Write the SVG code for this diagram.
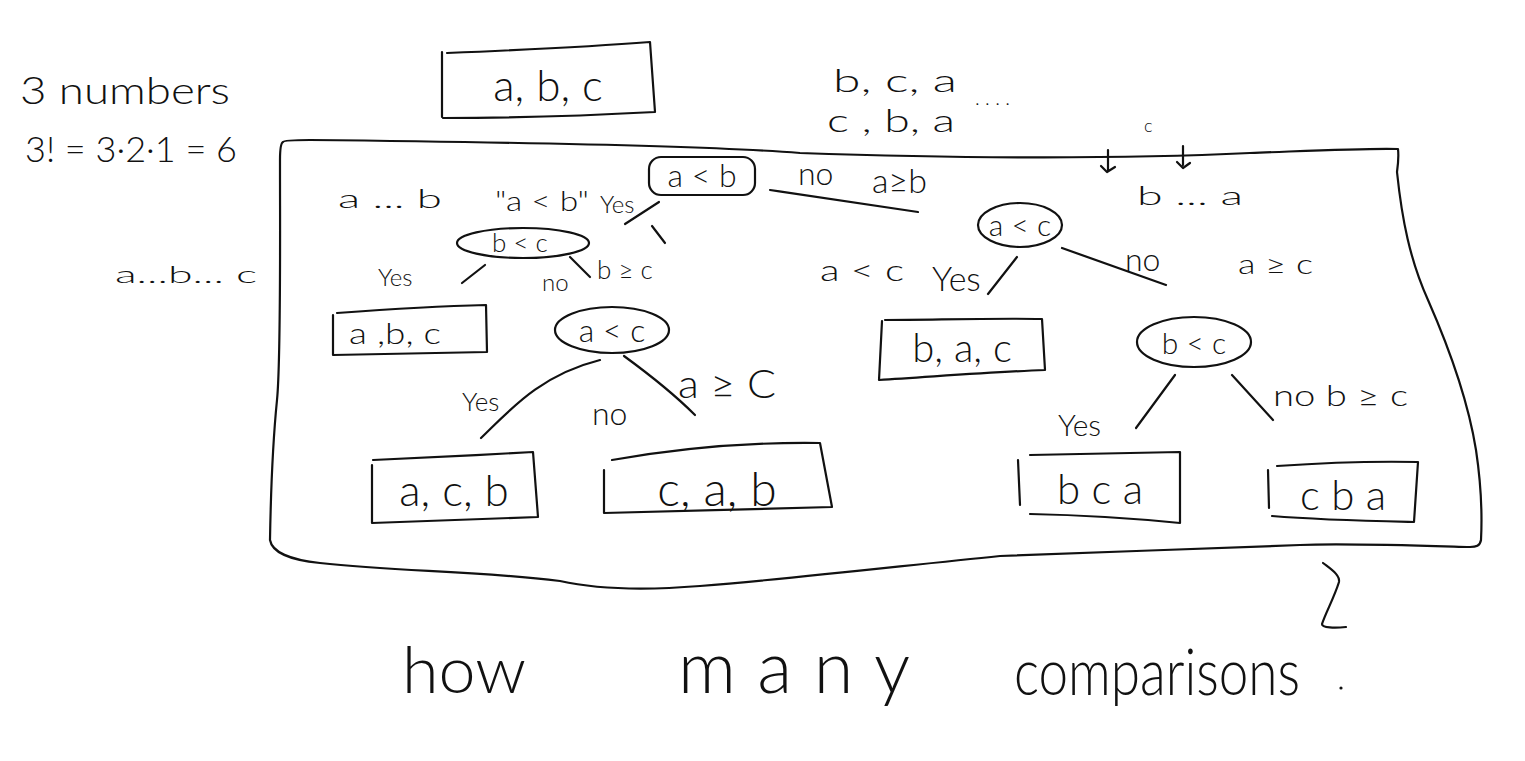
<svg xmlns="http://www.w3.org/2000/svg" width="1525" height="761" viewBox="0 0 1525 761">
<style>
.s{fill:none;stroke:#111;stroke-width:2.2;stroke-linecap:round;stroke-linejoin:round}
.t{font-family:"Lato","Open Sans","Liberation Sans",sans-serif;font-weight:300;fill:#111}
</style>
<rect width="1525" height="761" fill="#fff"/>
<!-- frame -->
<g id="frame">
<path class="s" d="M283,142 C284,140 300,140 310,140 C500,142 700,145 800,153 C950,158 1100,160 1250,153 C1330,150 1370,148 1398,149 C1399,158 1398,165 1397,172 C1402,220 1410,260 1428,300 C1450,350 1468,400 1476,450 C1482,490 1482,520 1481,540 C1480,546 1476,547 1470,547 C1400,545 1340,543 1300,545 C1200,549 1100,552 1000,556 C900,566 800,578 700,586 C650,590 600,590 560,581 C470,570 400,572 320,563 C290,560 272,552 270,540 C271,480 274,430 277,400 C281,360 280,250 280,160 C280,150 281,143 283,142 Z"/>
</g>
<!-- side notes -->
<g id="notes">
<text class="t" x="20" y="104" font-size="38" textLength="210" lengthAdjust="spacingAndGlyphs">3 numbers</text>
<text class="t" x="25" y="162" font-size="36" textLength="212" lengthAdjust="spacingAndGlyphs">3! = 3·2·1 = 6</text>
<text class="t" x="115" y="283" font-size="24" textLength="142" lengthAdjust="spacingAndGlyphs">a...b...  c</text>
<text class="t" x="833" y="92" font-size="32" textLength="124" lengthAdjust="spacingAndGlyphs">b, c, a</text>
<text class="t" x="827" y="132" font-size="32" textLength="128" lengthAdjust="spacingAndGlyphs">c , b, a</text>
<text class="t" x="975" y="105" font-size="20">.  . .      .</text>
<text class="t" x="1144" y="132" font-size="18">c</text>
<text class="t" x="1137" y="205" font-size="26" textLength="106" lengthAdjust="spacingAndGlyphs">b ... a</text>
<path class="s" d="M1108,150 L1108,170 M1101,166 L1107,172 L1115,167"/>
<path class="s" d="M1183,146 L1183,165 M1177,162 L1183,168 L1190,163"/>
</g>
<!-- root -->
<g id="root">
<path class="s" d="M442,52 L442,117 M447,53 C520,50 600,46 650,42 L655,112 C580,116 500,118 443,118"/>
<text class="t" x="548" y="101" font-size="44" text-anchor="middle">a, b, c</text>
</g>
<!-- comparison nodes -->
<g id="cmp-ab">
<rect class="s" x="649" y="157" width="106" height="38" rx="12"/>
<text class="t" x="702" y="187" font-size="32" text-anchor="middle">a &lt; b</text>
</g>
<g id="cmp-bc-left">
<ellipse class="s" cx="523" cy="243" rx="66" ry="15"/>
<text class="t" x="520" y="252" font-size="26" text-anchor="middle">b &lt; c</text>
</g>
<g id="cmp-ac-left">
<ellipse class="s" cx="612" cy="330" rx="57" ry="23"/>
<text class="t" x="612" y="342" font-size="32" text-anchor="middle">a &lt; c</text>
</g>
<g id="cmp-ac-right">
<ellipse class="s" cx="1020" cy="225" rx="42" ry="22"/>
<text class="t" x="1020" y="236" font-size="30" text-anchor="middle">a &lt; c</text>
</g>
<g id="cmp-bc-right">
<ellipse class="s" cx="1194" cy="342" rx="57" ry="25"/>
<text class="t" x="1194" y="354" font-size="30" text-anchor="middle">b &lt; c</text>
</g>
<!-- leaves -->
<g id="leaf-abc">
<path class="s" d="M333,315 L333,355 M337,313 C390,309 440,306 486,305 L487,352 L333,355"/>
<text class="t" x="349" y="344" font-size="30" textLength="92" lengthAdjust="spacingAndGlyphs">a ,b, c</text>
</g>
<g id="leaf-bac">
<path class="s" d="M882,321 L879,380 C930,377 990,372 1045,370 L1042,319 C990,318 930,320 885,320"/>
<text class="t" x="962" y="362" font-size="40" text-anchor="middle">b, a, c</text>
</g>
<g id="leaf-acb">
<path class="s" d="M372,465 L372,523 L538,517 L533,452 C480,455 420,458 373,460"/>
<text class="t" x="454" y="506" font-size="44" text-anchor="middle">a, c, b</text>
</g>
<g id="leaf-cab">
<path class="s" d="M604,470 L604,513 L832,507 L820,443 C750,442 680,448 612,460"/>
<text class="t" x="717" y="506" font-size="48" text-anchor="middle">c, a, b</text>
</g>
<g id="leaf-bca">
<path class="s" d="M1018,460 L1020,505 M1030,455 L1180,452 L1180,523 C1130,518 1080,515 1030,514"/>
<text class="t" x="1100" y="504" font-size="42" text-anchor="middle">b  c  a</text>
</g>
<g id="leaf-cba">
<path class="s" d="M1268,470 L1269,508 M1277,466 C1320,463 1370,461 1418,462 L1414,522 C1370,521 1320,520 1272,516"/>
<text class="t" x="1343" y="510" font-size="42" text-anchor="middle">c b a</text>
</g>
<!-- connectors -->
<g id="connectors">
<path class="s" d="M625,224 L659,202"/>
<path class="s" d="M652,226 L665,243"/>
<path class="s" d="M770,190 C820,197 870,205 918,212"/>
<path class="s" d="M462,283 L485,265"/>
<path class="s" d="M570,257 L590,277"/>
<path class="s" d="M600,360 C540,375 510,410 481,438"/>
<path class="s" d="M624,356 C650,375 675,395 695,415"/>
<path class="s" d="M1017,257 L988,294"/>
<path class="s" d="M1062,248 L1166,285"/>
<path class="s" d="M1175,375 L1136,428"/>
<path class="s" d="M1232,375 L1273,420"/>
</g>
<!-- edge labels -->
<g id="labels">
<text class="t" x="338" y="208" font-size="26" textLength="104" lengthAdjust="spacingAndGlyphs">a ... b</text>
<text class="t" x="495" y="211" font-size="28" textLength="94" lengthAdjust="spacingAndGlyphs">"a &lt; b"</text>
<text class="t" x="600" y="213" font-size="24">Yes</text>
<text class="t" x="378" y="286" font-size="24">Yes</text>
<text class="t" x="542" y="291" font-size="24">no</text>
<text class="t" x="597" y="279" font-size="26">b ≥ c</text>
<text class="t" x="798" y="185" font-size="32">no</text>
<text class="t" x="872" y="193" font-size="34">a≥b</text>
<text class="t" x="820" y="281" font-size="30" textLength="84" lengthAdjust="spacingAndGlyphs">a &lt; c</text>
<text class="t" x="932" y="291" font-size="34">Yes</text>
<text class="t" x="1125" y="271" font-size="32">no</text>
<text class="t" x="1238" y="274" font-size="28" textLength="75" lengthAdjust="spacingAndGlyphs">a ≥ c</text>
<text class="t" x="462" y="411" font-size="26">Yes</text>
<text class="t" x="592" y="425" font-size="32">no</text>
<text class="t" x="678" y="398" font-size="40" textLength="98" lengthAdjust="spacingAndGlyphs">a ≥ C</text>
<text class="t" x="1058" y="436" font-size="30">Yes</text>
<text class="t" x="1273" y="406" font-size="30" textLength="135" lengthAdjust="spacingAndGlyphs">no  b ≥ c</text>
</g>
<!-- question -->
<g id="question">
<text class="t" x="402" y="693" font-size="66" textLength="124" lengthAdjust="spacingAndGlyphs">how</text>
<text class="t" x="678" y="693" font-size="72" textLength="232" lengthAdjust="spacing">many</text>
<text class="t" x="1014" y="695" font-size="66" textLength="286" lengthAdjust="spacingAndGlyphs">comparisons</text>
<path class="s" d="M1323,563 C1332,570 1340,575 1339,582 C1334,598 1326,612 1322,624 C1322,628 1335,628 1346,627"/>
<circle cx="1341" cy="688" r="1.6" fill="#111"/>
</g>
</svg>
